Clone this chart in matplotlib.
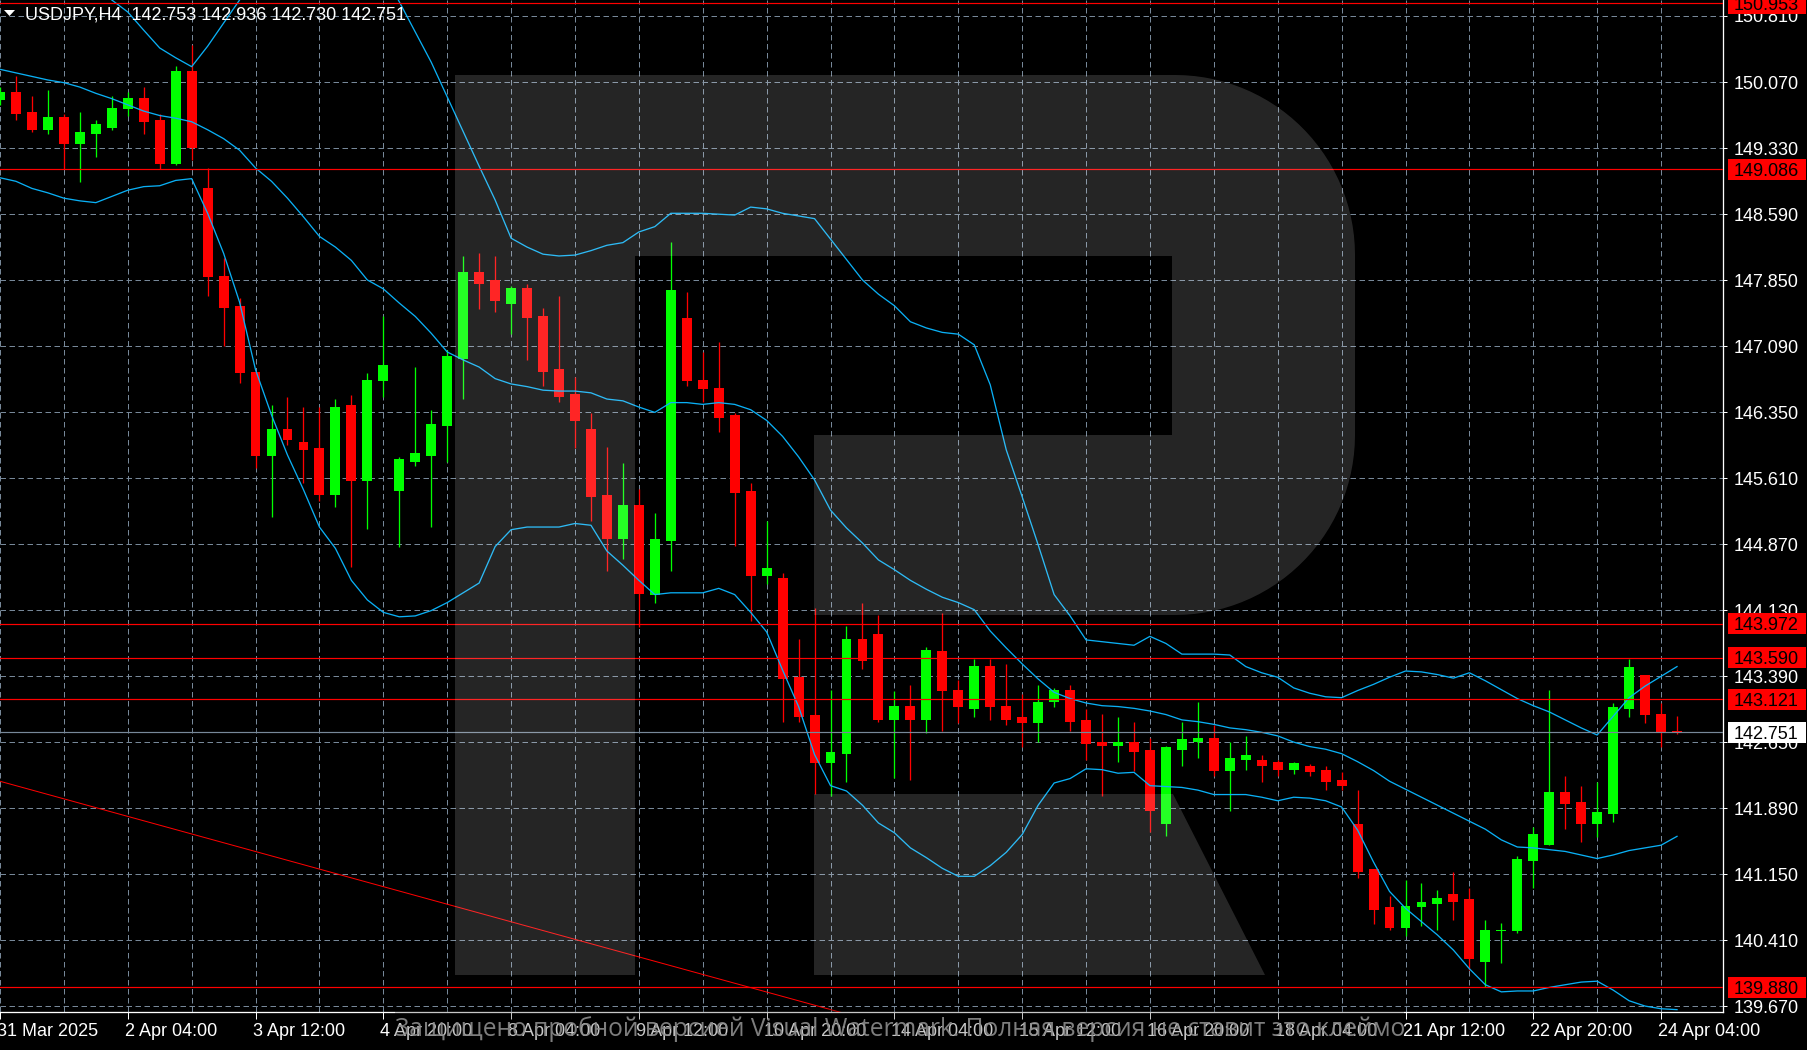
import numpy as np
import matplotlib
matplotlib.use('Agg')
import matplotlib.pyplot as plt
from matplotlib.patches import Rectangle, Polygon
from matplotlib.transforms import blended_transform_factory, ScaledTranslation
from matplotlib import font_manager

# ---------------------------------------------------------------------------
# data (candle -1 is the partly hidden one at left)
# ---------------------------------------------------------------------------
first_candle = -1

opens = [149.87, 149.96, 149.73, 149.53, 149.67, 149.37, 149.48, 149.55, 149.76, 149.89,
         149.64, 149.15, 150.19, 148.88, 147.89, 147.55, 146.81, 145.86, 146.16, 146.02,
         145.95, 145.42, 146.43, 145.58, 146.70, 145.47, 145.79, 145.86, 146.20, 146.95,
         147.93, 147.84, 147.57, 147.75, 147.44, 146.84, 146.56, 146.16, 145.42, 144.92,
         145.31, 144.29, 144.90, 147.41, 146.72, 146.63, 146.32, 145.47, 144.51, 144.49,
         143.37, 142.94, 142.40, 142.51, 143.80, 143.86, 142.89, 143.05, 142.89, 143.66,
         143.23, 143.01, 143.50, 143.05, 142.92, 142.85, 143.09, 143.23, 142.89, 142.64,
         142.60, 142.64, 142.55, 141.72, 142.55, 142.64, 142.69, 142.31, 142.44, 142.44,
         142.42, 142.33, 142.37, 142.33, 142.21, 141.72, 141.21, 140.78, 140.55, 140.78,
         140.82, 140.93, 140.87, 140.17, 140.51, 140.51, 141.30, 141.48, 142.08, 141.97,
         141.72, 141.83, 143.01, 143.39, 142.96, 142.753]
highs = [150.01, 150.14, 149.91, 149.98, 149.71, 149.73, 149.64, 149.91, 149.96, 150.01,
         149.71, 150.25, 150.48, 149.10, 148.09, 147.64, 146.82, 146.43, 146.52, 146.41,
         146.41, 146.50, 146.54, 146.79, 147.44, 145.85, 146.86, 146.38, 147.05, 148.11,
         148.14, 148.11, 147.77, 147.80, 147.53, 147.66, 146.75, 146.34, 145.96, 145.78,
         145.49, 145.22, 148.27, 147.71, 147.03, 147.14, 146.34, 145.56, 145.13, 144.54,
         143.80, 144.15, 143.23, 143.95, 144.20, 144.07, 143.21, 143.28, 143.71, 144.09,
         143.34, 143.57, 143.57, 143.52, 143.18, 143.28, 143.25, 143.28, 143.01, 142.96,
         142.92, 142.87, 142.69, 142.60, 142.87, 143.09, 142.83, 142.64, 142.71, 142.49,
         142.44, 142.42, 142.39, 142.37, 142.30, 142.10, 141.21, 140.91, 141.09, 141.05,
         140.98, 141.18, 141.00, 140.64, 140.60, 141.36, 141.68, 143.23, 142.26, 142.15,
         142.19, 143.08, 143.57, 143.39, 143.08, 142.936]
lows = [149.81, 149.64, 149.51, 149.48, 149.09, 148.94, 149.22, 149.53, 149.69, 149.48,
        149.09, 149.13, 149.19, 147.66, 147.10, 146.68, 145.72, 145.17, 145.98, 145.55,
        145.35, 145.28, 144.61, 145.04, 146.52, 144.83, 145.75, 145.06, 145.79, 146.50,
        147.51, 147.48, 147.23, 146.94, 146.65, 146.47, 145.95, 145.13, 144.56, 144.70,
        143.93, 144.20, 144.56, 146.65, 146.47, 146.13, 144.85, 144.00, 144.42, 142.87,
        142.87, 142.06, 142.03, 142.19, 143.46, 142.87, 142.24, 142.21, 142.74, 142.76,
        142.85, 142.92, 142.89, 142.83, 142.58, 142.64, 143.03, 142.76, 142.44, 142.03,
        142.42, 142.31, 141.63, 141.58, 142.37, 142.46, 142.26, 141.87, 142.33, 142.19,
        142.26, 142.28, 142.26, 142.10, 142.10, 141.11, 140.59, 140.53, 140.46, 140.57,
        140.53, 140.64, 140.08, 139.88, 140.15, 140.49, 141.00, 141.48, 141.66, 141.52,
        141.57, 141.74, 142.92, 142.85, 142.58, 142.730]
closes = [149.96, 149.71, 149.53, 149.67, 149.37, 149.51, 149.60, 149.78, 149.89, 149.62,
          149.15, 150.19, 149.33, 147.87, 147.53, 146.79, 145.86, 146.16, 146.04, 145.93,
          145.42, 146.41, 145.58, 146.72, 146.88, 145.83, 145.89, 146.22, 146.99, 147.93,
          147.80, 147.60, 147.75, 147.41, 146.81, 146.52, 146.25, 145.40, 144.92, 145.31,
          144.31, 144.92, 147.73, 146.70, 146.61, 146.29, 145.44, 144.51, 144.60, 143.35,
          142.92, 142.40, 142.53, 143.80, 143.55, 142.89, 143.05, 142.89, 143.68, 143.21,
          143.03, 143.50, 143.03, 142.89, 142.85, 143.09, 143.23, 142.87, 142.62, 142.60,
          142.64, 142.53, 141.87, 142.58, 142.67, 142.69, 142.31, 142.46, 142.49, 142.37,
          142.33, 142.40, 142.30, 142.19, 142.15, 141.18, 140.75, 140.55, 140.80, 140.84,
          140.89, 140.84, 140.20, 140.53, 140.53, 141.32, 141.61, 142.08, 141.94, 141.72,
          141.85, 143.03, 143.48, 142.94, 142.74, 142.751]

# Bollinger bands as drawn (upper runs off the top of the window in places)
bb_upper = [151.78, 151.72, 151.64, 151.53, 151.41, 151.27, 151.14, 150.99, 150.855, 150.65,
            150.45, 150.34, 150.24, 150.47, 150.73, 150.99, 151.25, 151.50, 151.70, 151.85,
            151.90, 151.85, 151.75, 151.60, 151.30, 150.97, 150.63, 150.29, 149.90, 149.51,
            149.12, 148.74, 148.31, 148.21, 148.13, 148.11, 148.12, 148.17, 148.23, 148.26,
            148.38, 148.44, 148.59, 148.59, 148.59, 148.58, 148.57, 148.66, 148.64, 148.59,
            148.56, 148.53, 148.30, 148.07, 147.84, 147.68, 147.55, 147.37, 147.30, 147.25,
            147.23, 147.11, 146.66, 145.93, 145.40, 144.86, 144.30, 144.06, 143.79, 143.77,
            143.75, 143.73, 143.83, 143.75, 143.63, 143.63, 143.63, 143.62, 143.49, 143.42,
            143.37, 143.25, 143.19, 143.15, 143.14, 143.22, 143.29, 143.37, 143.44, 143.43,
            143.40, 143.36, 143.42, 143.33, 143.23, 143.13, 143.05, 142.98, 142.89, 142.80,
            142.72, 142.93, 143.14, 143.27, 143.38, 143.49]
bb_mid = [150.21, 150.17, 150.13, 150.09, 150.06, 150.01, 149.94, 149.88, 149.81, 149.74,
          149.69, 149.66, 149.62, 149.53, 149.43, 149.30, 149.10, 148.95, 148.76, 148.55,
          148.33, 148.21, 148.06, 147.84, 147.74, 147.58, 147.43, 147.24, 147.03, 146.94,
          146.86, 146.73, 146.67, 146.64, 146.60, 146.59, 146.59, 146.57, 146.50, 146.48,
          146.41, 146.35, 146.46, 146.46, 146.44, 146.46, 146.44, 146.38, 146.26, 146.08,
          145.85, 145.59, 145.25, 145.05, 144.88, 144.69, 144.58, 144.46, 144.36, 144.27,
          144.21, 144.13, 143.89, 143.70, 143.52, 143.35, 143.20, 143.13, 143.08, 143.05,
          143.04, 143.02, 142.99, 142.95, 142.89, 142.87, 142.84, 142.80, 142.78, 142.75,
          142.71, 142.64, 142.59, 142.56, 142.51, 142.42, 142.32, 142.20, 142.11, 142.02,
          141.93, 141.84, 141.75, 141.66, 141.54, 141.46, 141.45, 141.43, 141.41, 141.37,
          141.33, 141.37, 141.42, 141.45, 141.48, 141.58]
bb_lower = [148.99, 148.95, 148.87, 148.82, 148.76, 148.73, 148.71, 148.78, 148.85, 148.89,
            148.90, 148.96, 148.98, 148.59, 148.14, 147.59, 146.83, 146.32, 145.87, 145.48,
            145.06, 144.82, 144.46, 144.24, 144.10, 144.05, 144.06, 144.12, 144.21, 144.32,
            144.43, 144.84, 145.03, 145.06, 145.06, 145.06, 145.10, 145.08, 144.79, 144.63,
            144.46, 144.30, 144.32, 144.32, 144.32, 144.37, 144.30, 144.10, 143.88, 143.45,
            143.04, 142.50, 142.15, 142.09, 141.93, 141.73, 141.62, 141.45, 141.34, 141.22,
            141.13, 141.13, 141.25, 141.40, 141.60, 141.93, 142.18, 142.23, 142.34, 142.33,
            142.29, 142.30, 142.15, 142.14, 142.13, 142.10, 142.05, 142.05, 142.05, 142.02,
            141.98, 142.02, 142.01, 141.98, 141.91, 141.65, 141.29, 140.96, 140.77, 140.62,
            140.47, 140.30, 140.09, 139.91, 139.83, 139.84, 139.84, 139.88, 139.91, 139.94,
            139.95, 139.85, 139.73, 139.67, 139.64, 139.63]

# horizontal levels drawn on the chart
red_levels = [150.953, 149.086, 143.972, 143.590, 143.121, 139.880]
bid_price = 142.751

# trend line anchors (candle index, price)
trend_idx = [0, 50]
trend_price = [142.15, 139.68]

# price grid and its labels
grid_labels = ['150.810', '150.070', '149.330', '148.590', '147.850', '147.090', '146.350',
               '145.610', '144.870', '144.130', '143.390', '142.650', '141.890', '141.150',
               '140.410', '139.670']
grid_top, grid_bottom = 150.81, 139.67

# time axis labels and the candles they sit on
time_idx = [-1, 7, 15, 23, 31, 39, 47, 55, 63, 71, 79, 87, 95, 103]
time_labels = ['31 Mar 2025', '2 Apr 04:00', '3 Apr 12:00', '4 Apr 20:00', '8 Apr 04:00',
               '9 Apr 12:00', '10 Apr 20:00', '14 Apr 04:00', '15 Apr 12:00',
               '16 Apr 20:00', '18 Apr 04:00', '21 Apr 12:00', '22 Apr 20:00',
               '24 Apr 04:00']

header = 'USDJPY,H4  142.753 142.936 142.730 142.751'
watermark = 'Защищено пробной версией Visual Watermark. Полная версия не ставит это клеймо'

# ---------------------------------------------------------------------------
W, H, DPI = 1808, 1050, 100
PX = 72 / DPI                      # points per pixel
PLOT_R, PLOT_B = 1722.7, 1012.3    # plot area edges in pixels
PRICE_TOP, PRICE_BOTTOM = 150.99, 139.60

installed = {f.name for f in font_manager.fontManager.ttflist}
UI_FONT = 'Liberation Sans' if 'Liberation Sans' in installed else 'DejaVu Sans'
WM_FONT = [f for f in ['Liberation Sans Narrow', 'Open Sans', 'DejaVu Sans'] if f in installed]
FS = 18 * PX

GRID_C = '#778899'
BB_C = '#0AB0F5'
UP_C, DN_C = '#00FF00', '#FF0000'

idx = np.arange(first_candle, first_candle + len(opens))
o, h, l, c = map(np.array, (opens, highs, lows, closes))
up = c > o
col = np.where(up, UP_C, DN_C)

fig = plt.figure(figsize=(W / DPI, H / DPI), dpi=DPI, facecolor='black')
ax = fig.add_axes([0, (H - PLOT_B) / H, PLOT_R / W, PLOT_B / H])
ax.set_facecolor('black')
ax.set_xlim(-0.8125, 106.86)
ax.set_ylim(PRICE_BOTTOM, PRICE_TOP)

# grid
grid_levels = np.linspace(grid_top, grid_bottom, len(grid_labels))
for lvl in grid_levels:
    ax.axhline(lvl, color=GRID_C, lw=1 * PX, ls=(0, (5.5, 3.5)), zorder=1)
for i in range(first_candle, 107, 4):
    ax.axvline(i, color=GRID_C, lw=1 * PX, ls=(0, (5.5, 3.5)), zorder=1)

# candles
ax.vlines(idx, l, h, colors=col, lw=1.3 * PX, zorder=2)
body_low = np.minimum(o, c)
body_h = np.maximum(np.abs(c - o), 0.012)
ax.bar(idx, body_h, bottom=body_low, width=0.62, color=col, linewidth=0, zorder=3)

# bollinger bands
for band in (bb_upper, bb_mid, bb_lower):
    ax.plot(idx, band, color=BB_C, lw=1.3 * PX, zorder=4)

# levels, bid line and trend line
for lvl in red_levels:
    ax.axhline(lvl, color='#FF0000', lw=1.2 * PX, zorder=5)
ax.axhline(bid_price, color=GRID_C, lw=1.2 * PX, zorder=5)
slope = (trend_price[1] - trend_price[0]) / (trend_idx[1] - trend_idx[0])
tx = np.array([-2, 70])
ax.plot(tx, trend_price[0] + (tx - trend_idx[0]) * slope, color='#FF0000', lw=1 * PX, zorder=5)

# axes frame
for s in ('top', 'left'):
    ax.spines[s].set_visible(False)
for s in ('bottom', 'right'):
    ax.spines[s].set_color('white')
    ax.spines[s].set_linewidth(1.3 * PX)

ax.yaxis.tick_right()
ax.set_yticks(grid_levels, grid_labels)
ax.tick_params(axis='y', colors='white', length=4 * PX, width=1 * PX,
               labelsize=FS, pad=7.3 * PX, labelfontfamily=UI_FONT)
ax.set_xticks(time_idx, [''] * len(time_idx))
ax.tick_params(axis='x', colors='white', length=7 * PX, width=1 * PX)

lab_tr = blended_transform_factory(ax.transData, ax.transAxes) + \
    ScaledTranslation(-3 / DPI, -24.2 / DPI, fig.dpi_scale_trans)
for i, lab in zip(time_idx, time_labels):
    ax.text(i, 0, lab, transform=lab_tr, ha='left', va='baseline', color='white',
            fontsize=FS, family=UI_FONT, clip_on=False)

# overlay in pixel coordinates (logo, header, watermark)
ov = fig.add_axes([0, 0, 1, 1], zorder=10)
ov.set_xlim(0, W)
ov.set_ylim(H, 0)
ov.axis('off')
ov.patch.set_alpha(0)

# price boxes on the right scale
box_tr = blended_transform_factory(ov.transData, ax.transData)
ppx = (PRICE_TOP - PRICE_BOTTOM) / PLOT_B
box_h = 21 * ppx
for lvl, face in [(v, '#FF0000') for v in red_levels] + [(bid_price, 'white')]:
    ax.add_patch(Rectangle((1728, lvl - box_h / 2), 78, box_h, transform=box_tr,
                           facecolor=face, edgecolor='none', clip_on=False, zorder=8))
    ax.text(1734, lvl, f'{lvl:.3f}', transform=box_tr, ha='left', va='center_baseline',
            color='black', fontsize=FS, family=UI_FONT, clip_on=False, zorder=9)

# faint "R" logo
arc1 = [(1175 + 180 * np.cos(t), 255 + 180 * np.sin(t)) for t in np.linspace(-np.pi / 2, 0, 30)]
arc2 = [(1175 + 180 * np.cos(t), 435 + 180 * np.sin(t)) for t in np.linspace(0, np.pi / 2, 30)]
r_body = [(455, 75)] + arc1 + arc2 + [(814, 615), (814, 435), (1172, 435), (1172, 256),
                                       (635, 256), (635, 975), (455, 975)]
r_leg = [(814, 794), (1173, 794), (1265, 975), (814, 975)]
for shape in (r_body, r_leg):
    ov.add_patch(Polygon(shape, closed=True, facecolor='white', edgecolor='none', alpha=0.15))

# header
ov.fill([4, 15, 9.5], [10, 10, 16], color='white', lw=0)
ov.text(25, 19.7, header, color='white', fontsize=FS, family=UI_FONT, va='baseline')

# watermark over the time axis
ov.add_patch(Rectangle((395, 1009), 1009, 41, facecolor='black', edgecolor='none', alpha=0.22))
wm = ov.text(395, 1029, watermark, color='#8c8c8c', fontsize=20, family=WM_FONT,
             ha='left', va='center', alpha=0.9)
fig.canvas.draw()
wm_w = wm.get_window_extent(fig.canvas.get_renderer()).width
wm.set_fontsize(20 * 1009 / wm_w)

fig.savefig('out.png', dpi=DPI, facecolor='black')
